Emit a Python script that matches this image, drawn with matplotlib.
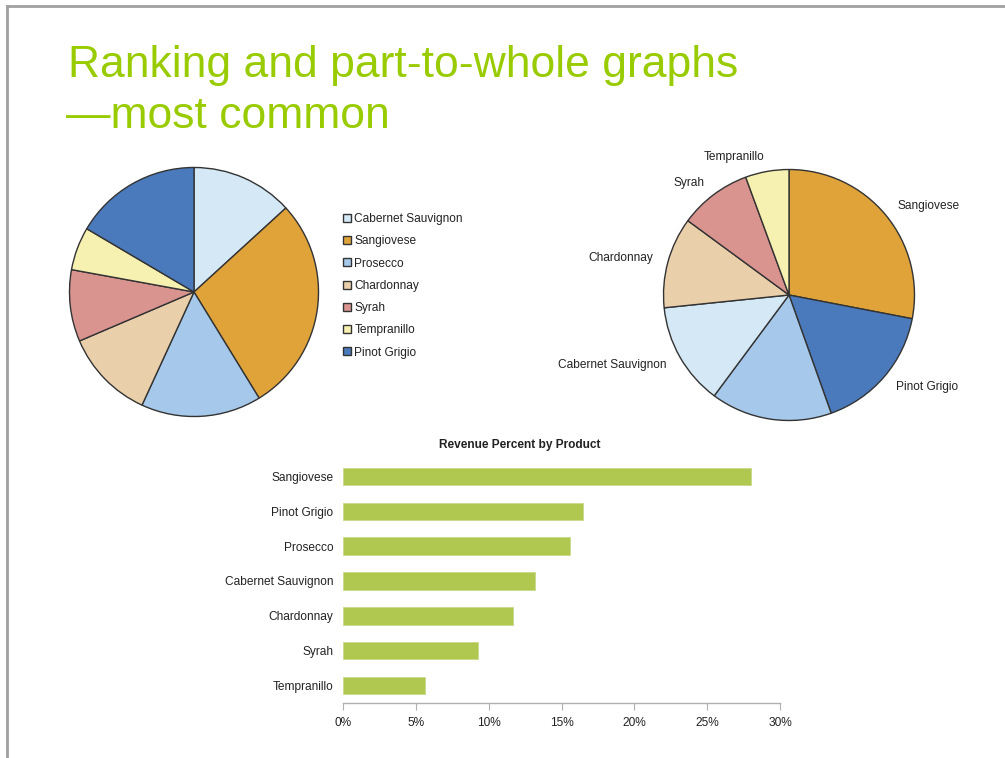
import matplotlib
matplotlib.use("Agg")
import matplotlib.pyplot as plt
from matplotlib.lines import Line2D
from matplotlib.ticker import FuncFormatter

plt.rcParams['font.family'] = ['Liberation Sans', 'DejaVu Sans']

# Revenue share by wine (percent)
wines = ["Sangiovese", "Pinot Grigio", "Prosecco", "Cabernet Sauvignon",
         "Chardonnay", "Syrah", "Tempranillo"]
revenue_pct = [28.0, 16.5, 15.6, 13.2, 11.7, 9.3, 5.6]

wine_colors = {
    "Cabernet Sauvignon": "#d4e8f5",
    "Sangiovese": "#e0a33a",
    "Prosecco": "#a6c9eb",
    "Chardonnay": "#eacfab",
    "Syrah": "#d99490",
    "Tempranillo": "#f6f1b0",
    "Pinot Grigio": "#4a7abc",
}

# Unsorted order used by the legend pie
legend_order = ["Cabernet Sauvignon", "Sangiovese", "Prosecco", "Chardonnay",
                "Syrah", "Tempranillo", "Pinot Grigio"]

# Slice labels on the sorted pie (Prosecco left unlabelled)
sorted_pie_labels = ["Sangiovese", "Pinot Grigio", "", "Cabernet Sauvignon",
                     "Chardonnay", "Syrah", "Tempranillo"]

title_lines = ["Ranking and part-to-whole graphs", "\u2014most common"]
bar_title = "Revenue Percent by Product"
x_ticks = [0, 5, 10, 15, 20, 25, 30]

W, H = 1005, 758
fig = plt.figure(figsize=(W / 100, H / 100), dpi=100)
fig.patch.set_facecolor("white")


def px_axes(x0, y0, w, h):
    """Axes placed in pixel coordinates measured from the top-left corner."""
    return fig.add_axes([x0 / W, 1 - (y0 + h) / H, w / W, h / H])


# Slide frame
frame_color = "#a0a0a0"
fig.add_artist(Line2D([7 / W, 1], [1 - 6 / H, 1 - 6 / H], color=frame_color, lw=2,
                      transform=fig.transFigure))
fig.add_artist(Line2D([7 / W, 7 / W], [0, 1 - 6 / H], color=frame_color, lw=2,
                      transform=fig.transFigure))

# Slide title
title_green = "#99cc00"
fig.text(68 / W, 1 - 77 / H, title_lines[0], fontsize=32, color=title_green,
         va="baseline", ha="left")
fig.text(66 / W, 1 - 128 / H, title_lines[1], fontsize=32, color=title_green,
         va="baseline", ha="left")

lookup = dict(zip(wines, revenue_pct))
wedge_style = dict(edgecolor="#333333", linewidth=1.0)
text_color = "#222222"
label_size = 8.6

# Left pie: unsorted with legend
ax1 = px_axes(194 - 127, 292 - 127, 254, 254)
wedges, _ = ax1.pie([lookup[w] for w in legend_order],
                    colors=[wine_colors[w] for w in legend_order],
                    startangle=90, counterclock=False, radius=1,
                    wedgeprops=wedge_style)
ax1.set_xlim(-1.02, 1.02)
ax1.set_ylim(-1.02, 1.02)
ax1.set_aspect("auto")
ax1.axis("off")

leg = fig.legend(wedges, legend_order, loc="upper left",
                 bbox_to_anchor=(343 / W, 1 - 213 / H), frameon=False,
                 fontsize=label_size, handlelength=0.65, handleheight=0.65,
                 handletextpad=0.3, labelspacing=0.86, borderpad=0,
                 borderaxespad=0)
for t in leg.get_texts():
    t.set_color(text_color)

# Right pie: sorted descending, labelled slices
ax2 = px_axes(789 - 128, 295 - 128, 256, 256)
ax2.pie(revenue_pct, labels=sorted_pie_labels,
        colors=[wine_colors[w] for w in wines],
        startangle=90, counterclock=False, radius=1,
        labeldistance=1.12, wedgeprops=wedge_style,
        textprops=dict(fontsize=label_size, color=text_color))
ax2.set_xlim(-1.02, 1.02)
ax2.set_ylim(-1.02, 1.02)
ax2.set_aspect("auto")
ax2.axis("off")

# Ranked horizontal bar chart
ax3 = px_axes(343, 459, 437, 244)
ypos = list(range(len(wines)))
ax3.barh(ypos, revenue_pct, height=0.5, color="#b1c850",
         edgecolor="#c8d98a", linewidth=0.6)
ax3.set_ylim(len(wines) - 0.5, -0.5)
ax3.set_xlim(x_ticks[0], x_ticks[-1])
ax3.set_yticks(ypos)
ax3.set_yticklabels(wines, fontsize=label_size, color=text_color)
ax3.set_xticks(x_ticks)
ax3.xaxis.set_major_formatter(FuncFormatter(lambda v, _: f"{v:.0f}%"))
for side in ("top", "right", "left"):
    ax3.spines[side].set_visible(False)
ax3.spines["bottom"].set_color("#b0b0b0")
ax3.spines["bottom"].set_linewidth(1.0)
ax3.tick_params(axis="y", length=0, pad=7)
ax3.tick_params(axis="x", length=5, color="#b0b0b0", labelsize=label_size,
                labelcolor=text_color, pad=5)
ax3.set_facecolor("none")

fig.text(520 / W, 1 - 445 / H, bar_title, fontsize=label_size, fontweight="bold",
         color=text_color, ha="center", va="center")

fig.savefig("out.png", dpi=100)
